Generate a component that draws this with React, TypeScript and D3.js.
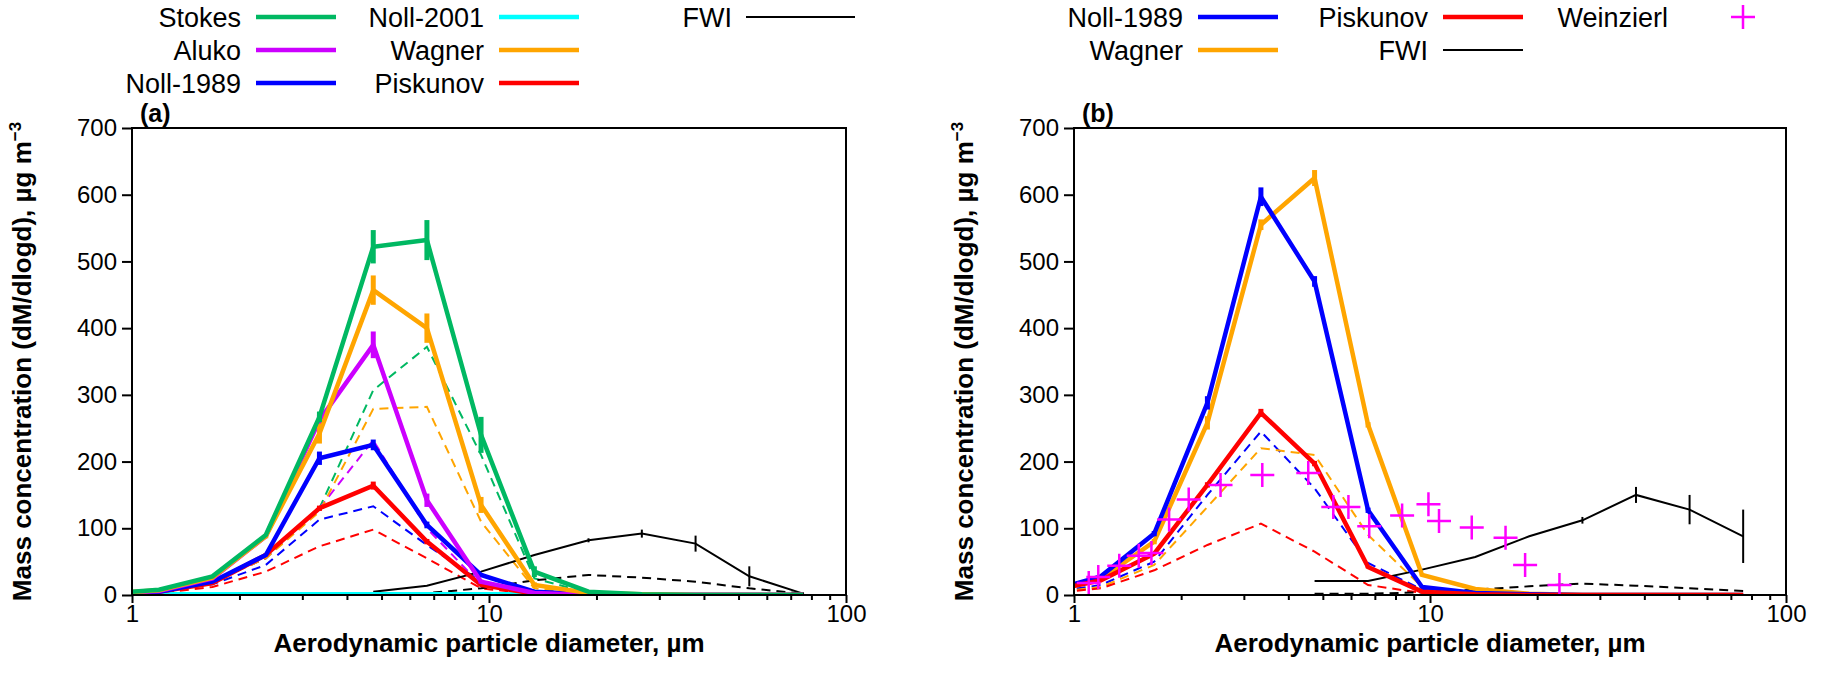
import { useEffect, useRef } from 'react';
import * as d3 from 'd3';

// impactor stage midpoints, µm (first one lies left of the axis and gets clipped)
const diameters = [0.84, 1.19, 1.68, 2.37, 3.35, 4.74, 6.7, 9.5, 13.4, 19, 26.8, 37.9, 53.6, 75.8];
const fwiDiameters = diameters.slice(5);

// panel (a)
const stokesA = [2, 8, 28, 90, 267, 522, 532, 240, 35, 5, 1, 0, 0, 0];
const stokesErrA = [0, 0, 0, 0, 8, 25, 30, 27, 8, 2, 0, 0, 0, 0];
const alukoA = [2, 6, 25, 88, 262, 375, 142, 20, 3, 0, 0, 0, 0, 0];
const alukoErrA = [0, 0, 0, 0, 8, 20, 10, 3, 0, 0, 0, 0, 0, 0];
const noll89A = [2, 5, 20, 60, 205, 225, 105, 30, 5, 1, 0, 0, 0, 0];
const noll89ErrA = [0, 0, 0, 0, 10, 8, 5, 2, 0, 0, 0, 0, 0, 0];
const noll01A = [0, 1, 1, 1, 1, 1, 1, 1, 1, 0, 0, 0, 0, 0];
const wagnerA = [2, 7, 26, 88, 242, 457, 400, 135, 15, 3, 1, 0, 0, 0];
const wagnerErrA = [0, 0, 0, 3, 15, 22, 22, 12, 4, 0, 0, 0, 0, 0];
const piskunovA = [2, 5, 18, 60, 130, 164, 80, 15, 2, 0, 0, 0, 0, 0];
const piskunovErrA = [0, 0, 0, 2, 4, 6, 4, 2, 0, 0, 0, 0, 0, 0];

const stokesDashA = [1, 5, 20, 55, 130, 307, 372, 210, 25, 3, 0, 0, 0, 0];
const alukoDashA = [1, 5, 20, 55, 130, 232, 100, 15, 2, 0, 0, 0, 0, 0];
const noll89DashA = [1, 4, 16, 45, 113, 133, 75, 20, 3, 0, 0, 0, 0, 0];
const wagnerDashA = [1, 5, 20, 55, 125, 279, 282, 110, 10, 2, 0, 0, 0, 0];
const piskunovDashA = [1, 3, 12, 35, 73, 98, 55, 10, 1, 0, 0, 0, 0, 0];

const fwiA = [5, 14, 35, 60, 82, 92, 77, 28, 2];
const fwiErrA = [0, 0, 0, 0, 3, 6, 12, 15, 2];
const fwiDashA = [1, 3, 10, 22, 30, 26, 20, 10, 2];

// panel (b)
const noll89B = [5, 28, 92, 288, 597, 470, 127, 12, 3, 1, 0, 0, 0, 0];
const noll89ErrB = [0, 2, 4, 10, 14, 8, 4, 2, 0, 0, 0, 0, 0, 0];
const wagnerB = [5, 24, 80, 258, 555, 625, 255, 30, 9, 2, 0, 0, 0, 0];
const wagnerErrB = [0, 2, 4, 10, 8, 12, 4, 2, 0, 0, 0, 0, 0, 0];
const piskunovB = [5, 22, 62, 165, 273, 197, 42, 5, 1, 0, 0, 0, 0, 0];
const piskunovErrB = [0, 1, 2, 4, 6, 4, 2, 1, 0, 0, 0, 0, 0, 0];

const noll89DashB = [3, 15, 50, 150, 245, 160, 48, 8, 2, 0, 0, 0, 0, 0];
const wagnerDashB = [3, 12, 45, 132, 220, 210, 90, 12, 3, 0, 0, 0, 0, 0];
const piskunovDashB = [2, 10, 37, 75, 107, 65, 15, 3, 0, 0, 0, 0, 0, 0];

const fwiB = [21, 21, 38, 57, 88, 112, 150, 128, 88];
const fwiErrB = [0, 0, 0, 0, 0, 5, 12, 22, 40];
const fwiDashB = [2, 2, 4, 8, 13, 17, 14, 10, 6];

const weinzierlD = [1.1, 1.17, 1.34, 1.52, 1.65, 1.85, 2.1, 2.58, 3.38, 4.55, 5.35, 5.9, 6.75, 8.35, 9.9, 10.6, 13.1, 16.3, 18.5, 23.1];
const weinzierlV = [18, 27, 44, 59, 63, 113, 143, 165, 180, 183, 132, 132, 103, 119, 136, 111, 101, 86, 45, 15];

const yTicks = [0, 100, 200, 300, 400, 500, 600, 700];
const xMajor = [1, 10, 100];
const xMinor = [2, 3, 4, 5, 6, 7, 8, 9, 20, 30, 40, 50, 60, 70, 80, 90];

const COLORS = {
  stokes: '#00b862',
  aluko: '#cc00ff',
  noll89: '#0000ff',
  noll01: '#00ffff',
  wagner: '#ffa500',
  piskunov: '#ff0000',
  fwi: '#000000',
  weinzierl: '#ff00ff',
};

const FONT = 'Liberation Sans, Arial, sans-serif';

interface Series {
  color: string;
  values: number[];
  err?: number[];
}

interface LegendItem {
  label: string;
  color: string;
  kind: 'thick' | 'thin' | 'cross';
  x: number; // right end of the text
  row: number;
  sample?: [number, number];
}

interface PanelSpec {
  id: string;
  left: number;
  right: number;
  tag: string;
  dashed: Series[];
  solid: Series[];
  fwi: number[];
  fwiErr: number[];
  fwiDash: number[];
  crosses?: boolean;
  legend: LegendItem[];
}

const TOP = 128;
const BOTTOM = 595;

function drawPanel(svg: d3.Selection<SVGSVGElement, unknown, null, undefined>, p: PanelSpec) {
  const x = d3.scaleLog().domain([1, 100]).range([p.left, p.right]);
  const y = d3.scaleLinear().domain([0, 700]).range([BOTTOM, TOP]);

  svg
    .append('clipPath')
    .attr('id', `clip-${p.id}`)
    .append('rect')
    .attr('x', p.left)
    .attr('y', TOP)
    .attr('width', p.right - p.left)
    .attr('height', BOTTOM - TOP);

  const plot = svg.append('g').attr('clip-path', `url(#clip-${p.id})`);

  const line = (xs: number[]) =>
    d3
      .line<number>()
      .x((_, i) => x(xs[i]))
      .y((d) => y(d));

  // dashed series first
  p.dashed.forEach((s) => {
    plot
      .append('path')
      .attr('d', line(diameters)(s.values))
      .attr('fill', 'none')
      .attr('stroke', s.color)
      .attr('stroke-width', 2)
      .attr('stroke-dasharray', '9,6');
  });
  plot
    .append('path')
    .attr('d', line(fwiDiameters)(p.fwiDash))
    .attr('fill', 'none')
    .attr('stroke', COLORS.fwi)
    .attr('stroke-width', 2)
    .attr('stroke-dasharray', '9,6');

  // FWI solid
  plot
    .append('path')
    .attr('d', line(fwiDiameters)(p.fwi))
    .attr('fill', 'none')
    .attr('stroke', COLORS.fwi)
    .attr('stroke-width', 2);
  p.fwiErr.forEach((e, i) => {
    if (!e) return;
    plot
      .append('line')
      .attr('x1', x(fwiDiameters[i]))
      .attr('x2', x(fwiDiameters[i]))
      .attr('y1', y(p.fwi[i] - e))
      .attr('y2', y(p.fwi[i] + e))
      .attr('stroke', COLORS.fwi)
      .attr('stroke-width', 2);
  });

  // solid series with error bars
  p.solid.forEach((s) => {
    plot
      .append('path')
      .attr('d', line(diameters)(s.values))
      .attr('fill', 'none')
      .attr('stroke', s.color)
      .attr('stroke-width', 4.5);
    (s.err || []).forEach((e, i) => {
      if (!e) return;
      plot
        .append('line')
        .attr('x1', x(diameters[i]))
        .attr('x2', x(diameters[i]))
        .attr('y1', y(s.values[i] - e))
        .attr('y2', y(s.values[i] + e))
        .attr('stroke', s.color)
        .attr('stroke-width', 5);
    });
  });

  if (p.crosses) {
    weinzierlD.forEach((d, i) => {
      const cx = x(d);
      const cy = y(weinzierlV[i]);
      plot
        .append('path')
        .attr('d', `M${cx - 12},${cy}H${cx + 12}M${cx},${cy - 12}V${cy + 12}`)
        .attr('stroke', COLORS.weinzierl)
        .attr('stroke-width', 2.5)
        .attr('fill', 'none');
    });
  }

  // frame
  svg
    .append('rect')
    .attr('x', p.left)
    .attr('y', TOP)
    .attr('width', p.right - p.left)
    .attr('height', BOTTOM - TOP)
    .attr('fill', 'none')
    .attr('stroke', '#000')
    .attr('stroke-width', 2);

  // axes
  const yAxis = svg
    .append('g')
    .attr('transform', `translate(${p.left},0)`)
    .call(d3.axisLeft(y).tickValues(yTicks).tickSize(10).tickPadding(5));
  yAxis.select('.domain').remove();
  yAxis.selectAll('line').attr('stroke-width', 2);
  yAxis.selectAll('text').style('font-family', FONT).style('font-size', '24px').attr('fill', '#000');

  const xAxis = svg
    .append('g')
    .attr('transform', `translate(0,${BOTTOM})`)
    .call(d3.axisBottom(x).tickValues(xMajor).tickSize(8).tickPadding(2).tickFormat(d3.format('d')));
  xAxis.select('.domain').remove();
  xAxis.selectAll('line').attr('stroke-width', 2);
  xAxis.selectAll('text').style('font-family', FONT).style('font-size', '24px').attr('fill', '#000');

  const xMinorAxis = svg
    .append('g')
    .attr('transform', `translate(0,${BOTTOM})`)
    .call(d3.axisBottom(x).tickValues(xMinor).tickSize(5).tickFormat(() => ''));
  xMinorAxis.select('.domain').remove();
  xMinorAxis.selectAll('line').attr('stroke-width', 2);

  // axis titles
  const midX = (p.left + p.right) / 2;
  svg
    .append('text')
    .attr('x', midX)
    .attr('y', 652)
    .attr('text-anchor', 'middle')
    .style('font-family', FONT)
    .style('font-size', '26px')
    .style('font-weight', 'bold')
    .text('Aerodynamic particle diameter, µm');

  const yl = svg
    .append('text')
    .attr('transform', `translate(${p.left - 101},${(TOP + BOTTOM) / 2}) rotate(-90)`)
    .attr('text-anchor', 'middle')
    .style('font-family', FONT)
    .style('font-size', '26px')
    .style('font-weight', 'bold');
  yl.append('tspan').text('Mass concentration (dM/dlogd), µg m');
  yl.append('tspan').attr('dy', -10).style('font-size', '17px').text('−3');

  svg
    .append('text')
    .attr('x', p.left + 8)
    .attr('y', TOP - 6)
    .style('font-family', FONT)
    .style('font-size', '25px')
    .style('font-weight', 'bold')
    .text(p.tag);

  // legend
  const rowY = [17, 50, 83];
  p.legend.forEach((it) => {
    const cy = rowY[it.row];
    svg
      .append('text')
      .attr('x', it.x)
      .attr('y', cy)
      .attr('dy', '0.36em')
      .attr('text-anchor', 'end')
      .style('font-family', FONT)
      .style('font-size', '27px')
      .text(it.label);
    const [x0, x1] = it.sample || [it.x + 15, it.x + 95];
    if (it.kind === 'cross') {
      const cx = (x0 + x1) / 2;
      svg
        .append('path')
        .attr('d', `M${cx - 12},${cy}H${cx + 12}M${cx},${cy - 12}V${cy + 12}`)
        .attr('stroke', it.color)
        .attr('stroke-width', 2.5);
    } else {
      svg
        .append('line')
        .attr('x1', x0)
        .attr('x2', x1)
        .attr('y1', cy)
        .attr('y2', cy)
        .attr('stroke', it.color)
        .attr('stroke-width', it.kind === 'thick' ? 4.5 : 2);
    }
  });
}

export default function App() {
  const svgRef = useRef<SVGSVGElement>(null);

  useEffect(() => {
    if (!svgRef.current) return;
    const svg = d3.select(svgRef.current);
    svg.selectAll('*').remove();

    drawPanel(svg, {
      id: 'a',
      left: 132,
      right: 846,
      tag: '(a)',
      dashed: [
        { color: COLORS.stokes, values: stokesDashA },
        { color: COLORS.aluko, values: alukoDashA },
        { color: COLORS.noll89, values: noll89DashA },
        { color: COLORS.wagner, values: wagnerDashA },
        { color: COLORS.piskunov, values: piskunovDashA },
      ],
      solid: [
        { color: COLORS.noll01, values: noll01A },
        { color: COLORS.piskunov, values: piskunovA, err: piskunovErrA },
        { color: COLORS.noll89, values: noll89A, err: noll89ErrA },
        { color: COLORS.aluko, values: alukoA, err: alukoErrA },
        { color: COLORS.wagner, values: wagnerA, err: wagnerErrA },
        { color: COLORS.stokes, values: stokesA, err: stokesErrA },
      ],
      fwi: fwiA,
      fwiErr: fwiErrA,
      fwiDash: fwiDashA,
      legend: [
        { label: 'Stokes', color: COLORS.stokes, kind: 'thick', x: 241, row: 0 },
        { label: 'Aluko', color: COLORS.aluko, kind: 'thick', x: 241, row: 1 },
        { label: 'Noll-1989', color: COLORS.noll89, kind: 'thick', x: 241, row: 2 },
        { label: 'Noll-2001', color: COLORS.noll01, kind: 'thick', x: 484, row: 0 },
        { label: 'Wagner', color: COLORS.wagner, kind: 'thick', x: 484, row: 1 },
        { label: 'Piskunov', color: COLORS.piskunov, kind: 'thick', x: 484, row: 2 },
        { label: 'FWI', color: COLORS.fwi, kind: 'thin', x: 732, row: 0, sample: [746, 855] },
      ],
    });

    drawPanel(svg, {
      id: 'b',
      left: 1074,
      right: 1786,
      tag: '(b)',
      dashed: [
        { color: COLORS.noll89, values: noll89DashB },
        { color: COLORS.wagner, values: wagnerDashB },
        { color: COLORS.piskunov, values: piskunovDashB },
      ],
      solid: [
        { color: COLORS.wagner, values: wagnerB, err: wagnerErrB },
        { color: COLORS.noll89, values: noll89B, err: noll89ErrB },
        { color: COLORS.piskunov, values: piskunovB, err: piskunovErrB },
      ],
      fwi: fwiB,
      fwiErr: fwiErrB,
      fwiDash: fwiDashB,
      crosses: true,
      legend: [
        { label: 'Noll-1989', color: COLORS.noll89, kind: 'thick', x: 1183, row: 0 },
        { label: 'Wagner', color: COLORS.wagner, kind: 'thick', x: 1183, row: 1 },
        { label: 'Piskunov', color: COLORS.piskunov, kind: 'thick', x: 1428, row: 0 },
        { label: 'FWI', color: COLORS.fwi, kind: 'thin', x: 1428, row: 1 },
        { label: 'Weinzierl', color: COLORS.weinzierl, kind: 'cross', x: 1668, row: 0, sample: [1700, 1786] },
      ],
    });
  }, []);

  return (
    <svg
      ref={svgRef}
      width={1833}
      height={681}
      style={{ position: 'absolute', left: 0, top: 0, background: '#fff' }}
    />
  );
}
